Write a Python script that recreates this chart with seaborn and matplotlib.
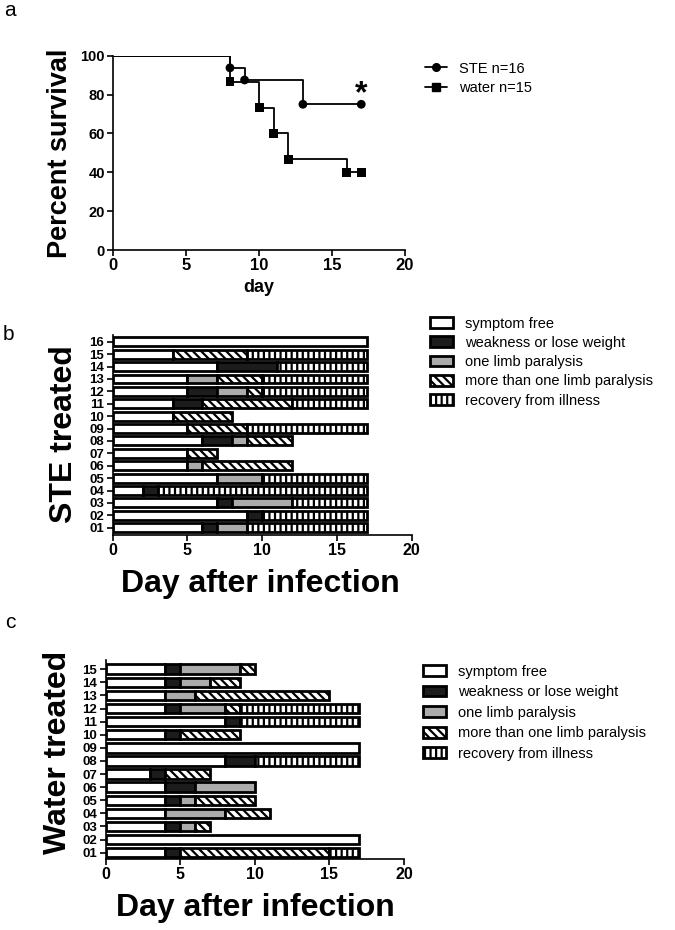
import seaborn as sns
import matplotlib.pyplot as plt
import pandas as pd
from matplotlib.lines import Line2D
from matplotlib.patches import Patch

sns.set_style("ticks", {"axes.edgecolor": "black", "text.color": "black",
                        "axes.labelcolor": "black", "xtick.color": "black",
                        "ytick.color": "black"})
plt.rcParams["font.family"] = ["Liberation Sans", "DejaVu Sans"]
plt.rcParams["hatch.linewidth"] = 1.6
plt.rcParams["axes.linewidth"] = 1.2

# --- survival (panel a) ---
ste_days = [0, 8, 9, 13, 17]
ste_surv = [100, 93.75, 87.5, 75, 75]
water_days = [0, 8, 10, 11, 12, 16, 17]
water_surv = [100, 86.67, 73.33, 60, 46.67, 40, 40]

# --- symptom course (panels b, c) ---
stage_names = ["symptom free", "weakness or lose weight", "one limb paralysis",
               "more than one limb paralysis", "recovery from illness"]
stage_colors = ["white", "#1c1c1c", "#ababab", "white", "white"]
stage_hatches = [None, None, None, "\\\\\\\\", "|||"]

# stage codes per animal (01 first) and the day each stage ends
ste_stages = [
    [0, 1, 2, 4], [0, 1, 4], [0, 1, 2, 4], [0, 1, 4], [0, 2, 4],
    [0, 2, 3], [0, 3], [0, 1, 2, 3], [0, 3, 4], [0, 3],
    [0, 1, 3, 4], [0, 1, 2, 3, 4], [0, 2, 3, 4], [0, 1, 4], [0, 3, 4], [0],
]
ste_ends = [
    [6, 7, 9, 17], [9, 10, 17], [7, 8, 12, 17], [2, 3, 17], [7, 10, 17],
    [5, 6, 12], [5, 7], [6, 8, 9, 12], [5, 9, 17], [4, 8],
    [4, 6, 12, 17], [5, 7, 9, 10, 17], [5, 7, 10, 17], [7, 11, 17], [4, 9, 17], [17],
]
water_stages = [
    [0, 1, 3, 4], [0], [0, 1, 2, 3], [0, 2, 3], [0, 1, 2, 3],
    [0, 1, 2], [0, 1, 3], [0, 1, 4], [0], [0, 1, 3],
    [0, 1, 4], [0, 1, 2, 3, 4], [0, 2, 3], [0, 1, 2, 3], [0, 1, 2, 3],
]
water_ends = [
    [4, 5, 15, 17], [17], [4, 5, 6, 7], [4, 8, 11], [4, 5, 6, 10],
    [4, 6, 10], [3, 4, 7], [8, 10, 17], [17], [4, 5, 9],
    [8, 9, 17], [4, 5, 8, 9, 17], [4, 6, 15], [4, 5, 7, 9], [4, 5, 9, 10],
]


def segments(stages, ends):
    rows = []
    for i, (st, en) in enumerate(zip(stages, ends)):
        start = 0
        for s, e in zip(st, en):
            rows.append({"row": i + 1, "stage": s, "start": start, "end": e})
            start = e
    return pd.DataFrame(rows)


def stage_handles():
    return [Patch(facecolor=c, edgecolor="black", hatch=h, linewidth=2.0, label=n)
            for n, c, h in zip(stage_names, stage_colors, stage_hatches)]


def plot_course(ax, stages, ends, ylim):
    df = segments(stages, ends)
    for s in range(len(stage_names)):
        sub = df[df["stage"] == s]
        ax.barh(sub["row"], sub["end"] - sub["start"], left=sub["start"], height=0.72,
                color=stage_colors[s], edgecolor="black", hatch=stage_hatches[s],
                linewidth=2.0)
    n = len(stages)
    ax.set_yticks(range(1, n + 1))
    ax.set_yticklabels([f"{i:02d}" for i in range(1, n + 1)], fontsize=9.5, fontweight="bold")
    ax.set_xlim(0, 20)
    ax.set_ylim(*ylim)
    ax.set_xticks([0, 5, 10, 15, 20])
    ax.set_xticklabels(["0", "5", "10", "15", "20"], fontsize=11.5, fontweight="bold")
    ax.tick_params(direction="out", length=4, width=1.2, pad=2)
    sns.despine(ax=ax)


fig = plt.figure(figsize=(6.75, 9.3), dpi=100)
W, H = 675, 930

# ===== panel a =====
ax_a = fig.add_axes([113.3 / W, 1 - 250 / H, 291.7 / W, 194.3 / H])
surv = pd.concat([
    pd.DataFrame({"day": ste_days, "surv": ste_surv, "group": "STE n=16"}),
    pd.DataFrame({"day": water_days, "surv": water_surv, "group": "water n=15"}),
])
sns.lineplot(data=surv, x="day", y="surv", hue="group", palette=["black", "black"],
             estimator=None, sort=False, drawstyle="steps-post", linewidth=1.3,
             legend=False, ax=ax_a)
pts = surv[surv["day"] > 0]
sns.scatterplot(data=pts, x="day", y="surv", style="group", markers=["o", "s"],
                color="black", s=40, edgecolor="black", linewidth=0, legend=False, ax=ax_a)
ax_a.text(17, 76, "*", ha="center", va="baseline", fontsize=23, fontweight="bold")
ax_a.set_xlim(0, 20)
ax_a.set_ylim(0, 100)
ax_a.set_xticks([0, 5, 10, 15, 20])
ax_a.set_xticklabels(["0", "5", "10", "15", "20"], fontsize=12, fontweight="bold")
ax_a.set_yticks([0, 20, 40, 60, 80, 100])
ax_a.set_yticklabels(["0", "20", "40", "60", "80", "100"], fontsize=10.5, fontweight="bold")
ax_a.tick_params(direction="out", length=4, width=1.2, pad=2)
ax_a.set_xlabel("")
ax_a.set_ylabel("")
sns.despine(ax=ax_a)

fig.text(60 / W, 1 - 153 / H, "Percent survival", rotation=90, ha="center", va="center",
         fontsize=19.5, fontweight="bold")
fig.text(259 / W, 1 - 287 / H, "day", ha="center", va="center", fontsize=13, fontweight="bold")

leg_a = [Line2D([], [], color="black", marker="o", lw=1.3, ms=5.5, label="STE n=16"),
         Line2D([], [], color="black", marker="s", lw=1.3, ms=5.5, label="water n=15")]
fig.legend(handles=leg_a, loc="upper left", bbox_to_anchor=(425 / W, 1 - 61.6 / H),
           frameon=False, fontsize=10.5, handlelength=1.5, handletextpad=0.8,
           labelspacing=0.35, borderpad=0, borderaxespad=0)

# ===== panel b =====
ax_b = fig.add_axes([112.7 / W, 1 - 534.5 / H, 299 / W, 199.5 / H])
plot_course(ax_b, ste_stages, ste_ends, (0.45, 16.55))
fig.text(64 / W, 1 - 434 / H, "STE treated", rotation=90, ha="center", va="center",
         fontsize=23, fontweight="bold")
fig.text(260 / W, 1 - 592 / H, "Day after infection", ha="center", va="baseline",
         fontsize=23, fontweight="bold")
fig.legend(handles=stage_handles(), loc="upper left", bbox_to_anchor=(430 / W, 1 - 316.6 / H),
           frameon=False, fontsize=10.5, handlelength=1.6, handleheight=0.75,
           handletextpad=0.8, labelspacing=0.36, borderpad=0, borderaxespad=0)

# ===== panel c =====
ax_c = fig.add_axes([105.7 / W, 1 - 859 / H, 298.3 / W, 199 / H])
plot_course(ax_c, water_stages, water_ends, (0.52, 15.7))
fig.text(58 / W, 1 - 752 / H, "Water treated", rotation=90, ha="center", va="center",
         fontsize=23, fontweight="bold")
fig.text(255 / W, 1 - 916 / H, "Day after infection", ha="center", va="baseline",
         fontsize=23, fontweight="bold")
fig.legend(handles=stage_handles(), loc="upper left", bbox_to_anchor=(423 / W, 1 - 664.6 / H),
           frameon=False, fontsize=10.5, handlelength=1.6, handleheight=0.75,
           handletextpad=0.8, labelspacing=0.45, borderpad=0, borderaxespad=0)

# panel letters
fig.text(10 / W, 1 - 10 / H, "a", ha="center", va="center", fontsize=15)
fig.text(8 / W, 1 - 335 / H, "b", ha="center", va="center", fontsize=15)
fig.text(10 / W, 1 - 622 / H, "c", ha="center", va="center", fontsize=15)

fig.savefig("out.png", dpi=100)
